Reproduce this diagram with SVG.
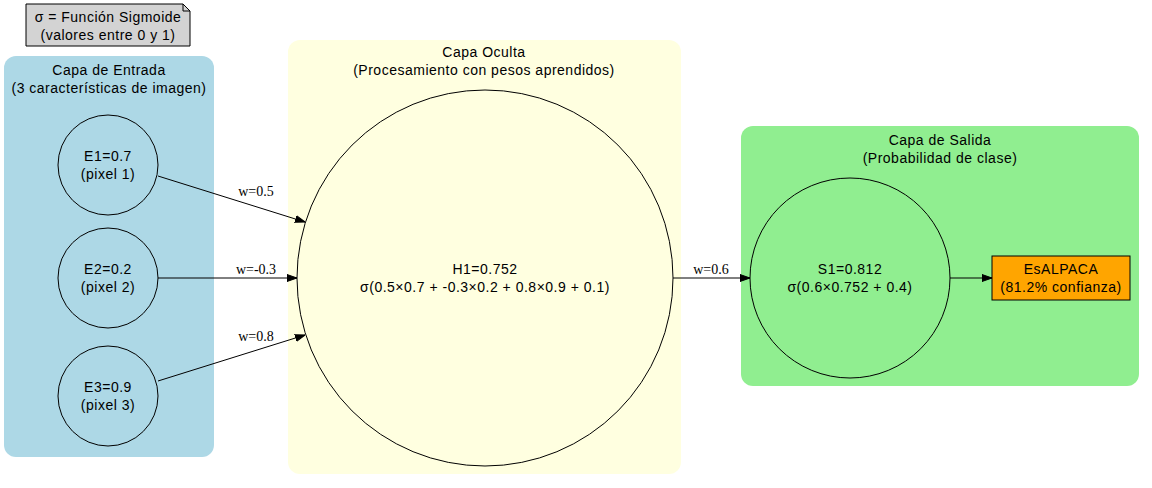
<svg xmlns="http://www.w3.org/2000/svg" width="1152" height="488" viewBox="0 0 1152 488">
<defs>
<marker id="arr" markerWidth="10" markerHeight="10" refX="10" refY="5" orient="auto" markerUnits="userSpaceOnUse">
<path d="M0,1.5 L10,5 L0,8.5 Z" fill="#000" stroke="#000"/>
</marker>
</defs>
<style>
.t{font-family:"Liberation Sans",Arial,sans-serif;font-size:14px;fill:#000;text-anchor:middle;letter-spacing:0.5px}
.e{font-family:"Liberation Serif","Times New Roman",serif;font-size:14px;fill:#000;text-anchor:middle}
.n{stroke:#000;stroke-width:1}
.c{stroke:#000;stroke-width:1;fill:none}
</style>
<rect width="1152" height="488" fill="#fff"/>
<g id="note">
<path d="M26,4 H183 L190,11 V46 H26 Z" fill="#d3d3d3" stroke="#000"/>
<path d="M183,4 V11 H190" fill="none" stroke="#000"/>
<text class="t" x="108" y="22">σ = Función Sigmoide</text>
<text class="t" x="108" y="40">(valores entre 0 y 1)</text>
</g>
<g id="cluster_input">
<rect x="4" y="56" width="210" height="401" rx="12" fill="#add8e6"/>
<text class="t" x="109" y="75">Capa de Entrada</text>
<text class="t" x="109" y="93">(3 características de imagen)</text>
</g>
<g id="cluster_hidden">
<rect x="288" y="40" width="393" height="434" rx="12" fill="#ffffe0"/>
<text class="t" x="484" y="57">Capa Oculta</text>
<text class="t" x="484" y="75">(Procesamiento con pesos aprendidos)</text>
</g>
<g id="cluster_output">
<rect x="741" y="126" width="398" height="260" rx="12" fill="#90ee90"/>
<text class="t" x="940" y="145">Capa de Salida</text>
<text class="t" x="940" y="163">(Probabilidad de clase)</text>
</g>
<g id="connectors">
<line class="c" x1="158" y1="176" x2="305" y2="222" marker-end="url(#arr)"/>
<text class="e" x="256" y="196">w=0.5</text>
<line class="c" x1="158" y1="278" x2="297" y2="278" marker-end="url(#arr)"/>
<text class="e" x="256" y="274">w=-0.3</text>
<line class="c" x1="158" y1="381" x2="305" y2="335" marker-end="url(#arr)"/>
<text class="e" x="256" y="341">w=0.8</text>
<line class="c" x1="673" y1="278" x2="750" y2="278" marker-end="url(#arr)"/>
<text class="e" x="711" y="274">w=0.6</text>
<line class="c" x1="950" y1="278" x2="992" y2="278" marker-end="url(#arr)"/>
</g>
<g id="E1">
<circle class="n" cx="108" cy="165" r="50" fill="#add8e6"/>
<text class="t" x="108" y="161">E1=0.7</text>
<text class="t" x="108" y="179">(pixel 1)</text>
</g>
<g id="E2">
<circle class="n" cx="108" cy="278" r="50" fill="#add8e6"/>
<text class="t" x="108" y="274">E2=0.2</text>
<text class="t" x="108" y="292">(pixel 2)</text>
</g>
<g id="E3">
<circle class="n" cx="108" cy="396" r="50" fill="#add8e6"/>
<text class="t" x="108" y="392">E3=0.9</text>
<text class="t" x="108" y="410">(pixel 3)</text>
</g>
<g id="H1">
<circle class="n" cx="485" cy="278" r="188" fill="#ffffe0"/>
<text class="t" x="485" y="274">H1=0.752</text>
<text class="t" x="485" y="292">σ(0.5×0.7 + -0.3×0.2 + 0.8×0.9 + 0.1)</text>
</g>
<g id="S1">
<circle class="n" cx="850" cy="278" r="100" fill="#90ee90"/>
<text class="t" x="850" y="274">S1=0.812</text>
<text class="t" x="850" y="292">σ(0.6×0.752 + 0.4)</text>
</g>
<g id="OUT">
<rect class="n" x="992" y="256" width="138" height="44" fill="#ffa500"/>
<text class="t" x="1061" y="274">EsALPACA</text>
<text class="t" x="1061" y="292">(81.2% confianza)</text>
</g>
</svg>
